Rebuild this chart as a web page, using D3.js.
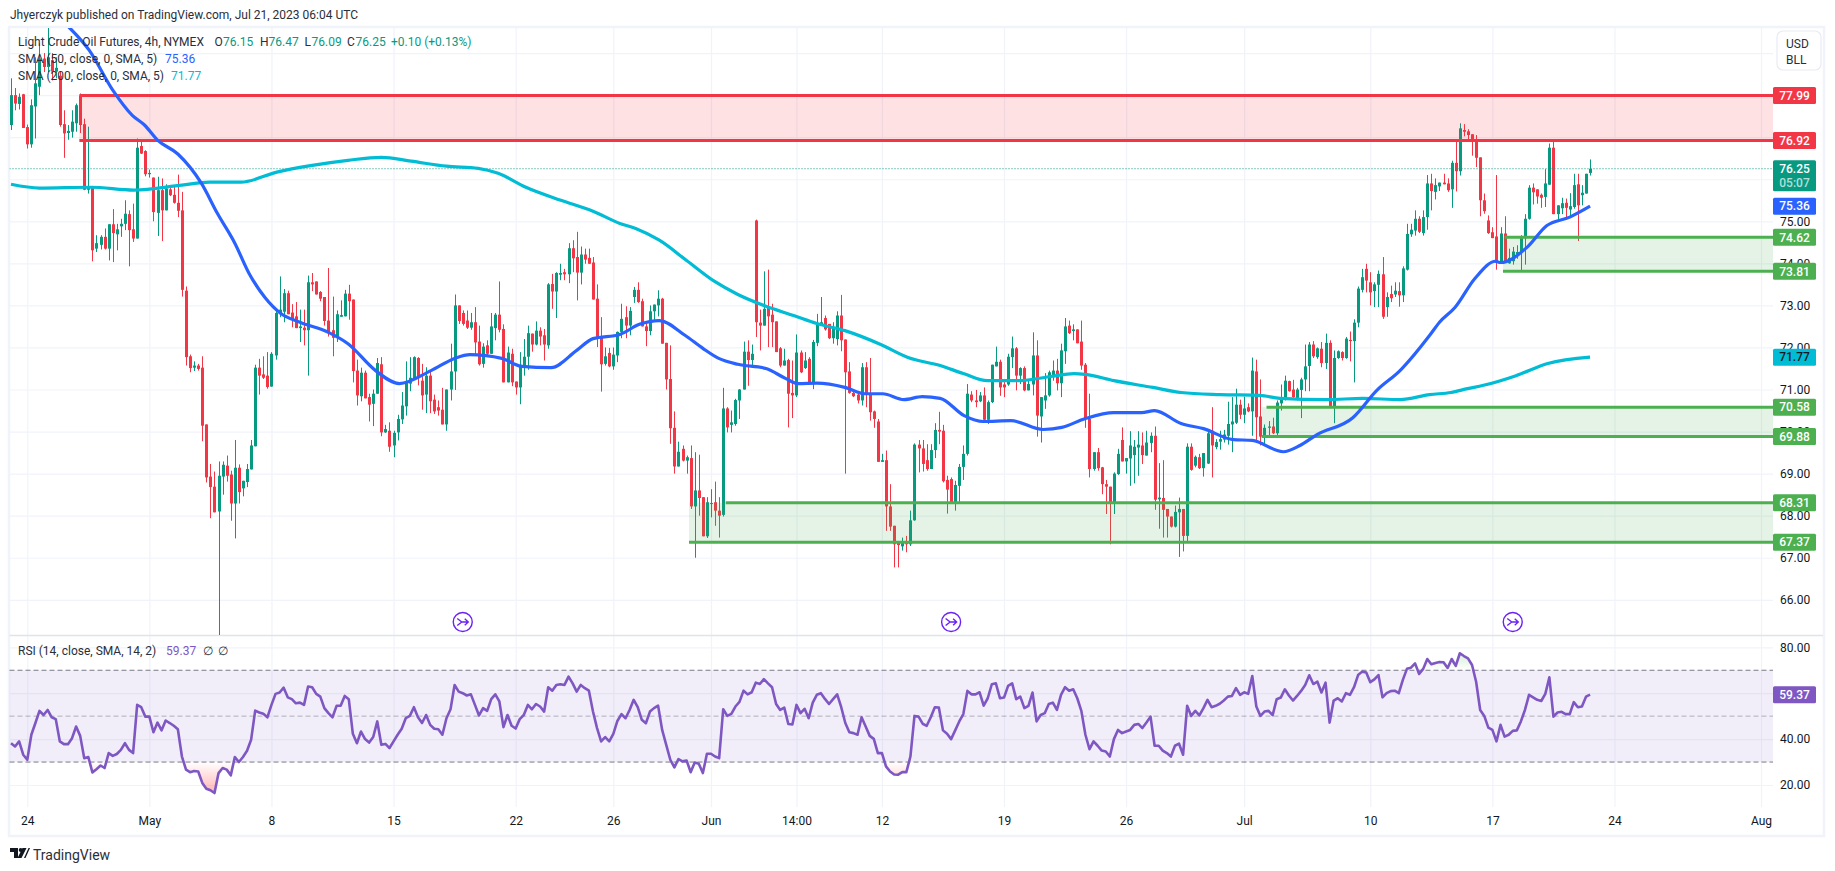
<!DOCTYPE html>
<html>
<head>
<meta charset="utf-8">
<script src="https://cdn.jsdelivr.net/npm/d3@7"></script>
<style>
html,body{margin:0;padding:0;background:#fff;overflow:hidden}
svg{display:block}
text{font-family:"Roboto","Liberation Sans",sans-serif;font-size:12px;fill:#131722}
</style>
</head>
<body>
<svg id="c" width="1835" height="871"></svg>
<script>
const barOpen=[
77.29,78.0,77.79,78.02,77.24,76.83,77.73,78.2,78.87,78.67,
78.83,78.56,78.46,77.31,77.1,77.13,77.33,77.99,77.31,75.75,
75.82,74.35,74.44,74.63,74.35,74.93,74.69,74.88,74.94,75.17,
74.81,74.59,76.79,76.67,76.12,76.04,75.2,75.74,75.26,75.76,
75.63,75.44,75.26,73.35,71.79,71.52,71.57,71.52,70.17,68.93,
68.69,68.1,68.93,69.19,68.98,68.29,69.14,68.65,68.8,69.1,
69.65,71.52,71.36,71.33,71.07,71.81,72.8,72.85,73.29,72.83,
72.74,72.46,72.47,72.41,73.55,73.57,73.32,73.2,72.64,72.41,
72.25,72.73,72.74,73.28,73.14,71.45,70.84,71.4,70.82,70.66,
70.9,71.6,69.98,70.02,69.67,69.98,70.29,70.6,71.14,71.25,
71.75,71.21,70.88,71.33,70.76,70.58,70.52,70.17,71.0,71.43,
73.0,72.82,72.64,72.47,72.6,72.14,71.61,72.05,71.85,72.46,
72.78,72.44,71.17,71.85,71.19,71.05,71.57,71.78,72.33,72.07,
72.4,72.29,72.05,73.51,73.33,73.73,73.79,73.74,74.36,74.15,
73.78,74.21,74.13,74.02,73.16,72.27,71.61,71.87,71.55,71.81,
72.37,72.72,72.52,73.2,73.37,73.1,72.5,72.39,72.86,73.0,
73.16,72.11,71.25,70.09,69.17,69.59,69.31,69.37,68.22,68.6,
68.44,67.51,68.28,68.32,68.12,68.02,70.55,70.16,70.18,70.74,
71.0,71.9,71.7,75.02,72.59,72.52,72.96,72.78,72.62,71.98,
71.57,71.7,70.92,70.86,71.88,71.51,71.73,71.17,72.11,72.52,
72.7,72.56,72.22,72.2,72.76,72.19,71.43,70.92,70.88,70.74,
71.53,70.9,70.48,70.24,69.28,69.32,68.22,67.76,67.35,67.27,
67.38,67.32,67.89,69.69,69.6,69.32,69.11,69.56,70.04,70.02,
68.85,68.87,68.29,68.71,69.16,69.47,70.88,70.74,70.72,70.86,
70.28,70.7,71.55,71.66,71.12,71.12,71.77,71.98,71.33,71.51,
70.98,71.12,71.81,70.36,70.74,70.86,71.33,71.45,71.15,71.91,
72.52,72.39,72.43,72.14,71.59,70.3,69.11,69.51,69.15,68.75,
68.69,68.29,68.99,69.8,69.29,69.36,69.44,69.62,69.67,69.43,
69.73,69.9,68.39,68.42,68.16,67.98,67.74,68.08,68.16,67.52,
69.64,69.19,69.39,69.13,69.24,70.02,69.63,69.76,69.81,69.9,
70.17,70.21,70.64,70.4,70.58,70.48,71.43,70.36,69.88,70.09,
70.12,69.96,70.67,70.77,71.2,71.0,70.8,70.99,71.24,71.56,
72.07,71.77,71.97,71.63,72.11,70.56,71.75,71.89,71.75,72.18,
72.15,72.59,73.37,73.87,73.55,73.34,73.49,73.74,72.96,73.27,
73.26,73.34,73.24,73.85,74.69,74.78,75.06,74.72,75.1,75.9,
75.7,75.83,75.92,75.9,75.76,76.39,76.19,77.17,77.14,77.07,
76.93,76.52,75.5,75.02,74.74,74.64,74.01,74.71,74.0,74.05,
74.21,74.27,74.6,75.06,75.8,75.76,75.63,75.58,75.87,76.75,
75.17,75.31,75.44,75.28,75.34,75.88,75.62,75.66,76.15];
const barClose=[
78.0,77.8,77.96,77.22,76.83,77.76,78.28,78.87,78.67,78.9,
78.56,78.65,77.29,77.09,77.15,77.37,77.76,77.29,75.75,75.83,
74.31,74.48,74.63,74.35,74.93,74.72,74.81,74.94,75.18,74.79,
74.59,76.75,76.61,76.12,76.15,75.22,75.74,75.26,75.78,75.62,
75.44,75.25,73.37,71.77,71.51,71.57,71.49,70.14,68.91,68.68,
68.08,68.95,69.21,68.95,68.29,69.14,68.56,68.83,69.11,69.67,
71.52,71.33,71.28,71.06,71.85,72.82,72.9,73.29,72.79,72.66,
72.46,72.5,72.41,73.55,73.5,73.26,73.16,72.63,72.34,72.23,
72.79,72.77,73.28,73.1,71.44,70.86,71.4,70.79,70.64,70.9,
71.63,69.98,70.06,69.64,69.97,70.3,70.62,71.17,71.28,71.77,
71.3,70.86,71.33,70.72,70.48,70.5,70.17,71.0,71.43,73.0,
72.63,72.56,72.47,72.6,72.12,71.6,72.02,71.85,72.5,72.78,
72.42,71.17,71.88,71.17,71.05,71.59,71.78,72.34,72.07,72.4,
72.26,72.07,73.5,73.33,73.77,73.77,73.74,74.36,74.12,73.78,
74.21,74.09,73.99,73.14,72.25,71.6,71.79,71.55,71.83,72.37,
72.68,72.52,72.87,73.37,73.08,72.5,72.39,72.86,73.02,73.16,
72.09,71.24,70.08,69.17,69.52,69.31,69.39,68.22,68.6,68.42,
67.51,68.32,68.3,68.12,68.0,70.55,70.1,70.22,70.75,71.0,
71.9,71.7,71.85,72.6,72.52,72.92,72.74,72.6,71.89,71.57,
71.69,70.9,70.86,71.88,71.41,71.69,71.17,72.13,72.56,72.6,
72.43,72.22,72.48,72.76,72.17,71.41,70.92,70.84,70.74,71.53,
70.9,70.46,70.3,69.28,69.32,68.22,67.74,67.32,67.3,67.38,
67.32,67.89,69.69,69.6,69.23,69.11,69.56,70.04,70.0,68.82,
68.62,68.29,68.73,69.16,69.47,70.9,70.74,70.7,70.86,70.28,
70.7,71.59,71.66,71.05,71.05,71.78,71.98,71.33,71.51,70.98,
71.13,71.81,70.38,70.82,70.86,71.41,71.45,71.15,71.93,72.5,
72.34,72.43,72.1,71.57,70.3,69.11,69.51,69.13,68.75,68.69,
68.29,69.0,69.47,69.29,69.37,69.67,69.64,69.69,69.44,69.74,
69.9,68.38,68.43,68.14,67.98,67.74,68.09,68.16,67.52,69.64,
69.09,69.4,69.13,69.49,69.96,69.67,69.75,69.82,69.93,70.18,
70.24,70.64,70.4,70.55,70.48,71.45,70.34,69.88,70.09,70.12,
69.96,70.69,70.78,71.21,70.96,70.82,71.0,71.24,71.55,72.07,
71.79,71.98,71.63,72.11,70.56,71.75,71.91,71.75,72.21,72.15,
72.59,73.4,73.67,73.59,73.31,73.5,73.75,72.73,73.2,73.17,
73.35,73.24,73.88,74.7,74.8,75.06,74.75,75.1,75.9,75.72,
75.86,75.92,75.88,75.74,76.39,76.19,77.21,77.13,77.05,76.93,
76.51,75.5,75.24,74.72,74.6,74.01,74.71,74.01,74.13,74.28,
74.27,74.63,75.06,75.8,75.69,75.59,75.56,75.9,76.75,75.17,
75.38,75.43,75.32,75.36,75.86,75.38,75.68,76.13,76.25];
const barHigh=[
78.4,78.17,78.04,78.03,77.3,77.9,78.9,79.23,79.0,79.6,
79.0,78.9,78.55,77.64,77.29,77.64,77.8,78.04,77.44,77.25,
75.84,74.67,74.67,74.83,74.93,75.29,74.94,75.06,75.5,75.26,
75.42,76.97,76.94,76.69,76.23,76.04,76.06,76.02,75.88,75.83,
75.83,76.11,75.7,73.45,71.83,71.67,71.61,71.79,70.17,69.23,
69.05,69.29,69.29,69.43,69.07,69.8,69.22,68.83,69.23,69.8,
71.59,71.73,71.79,71.89,71.89,72.88,73.69,73.39,73.35,73.03,
73.08,72.9,72.9,73.71,73.77,73.57,73.34,73.2,73.89,73.21,
72.88,73.12,73.37,73.49,73.14,71.71,71.52,71.45,70.9,71.0,
71.75,71.77,70.16,70.22,70.02,70.4,70.94,71.67,71.77,71.79,
71.77,71.61,71.53,71.45,70.88,70.74,71.04,71.0,72.09,73.26,
73.0,72.88,72.88,72.82,72.96,72.52,72.1,72.17,72.82,72.82,
73.57,72.55,72.02,71.97,71.19,71.89,72.2,72.52,72.33,72.62,
72.48,72.44,73.53,73.75,73.79,73.99,73.87,74.48,74.55,74.75,
74.4,74.35,74.35,74.15,73.5,72.72,72.0,71.99,72.0,72.38,
73.04,72.98,72.96,73.44,73.55,73.16,72.6,73.0,73.02,73.36,
73.18,72.11,72.05,70.48,69.76,69.67,69.43,69.67,69.51,69.45,
68.44,68.44,68.63,68.81,68.44,71.04,70.58,70.5,70.78,71.01,
72.14,72.17,72.07,75.04,72.9,73.81,73.85,73.04,72.62,72.01,
71.97,71.73,71.69,72.31,71.93,71.89,71.77,72.18,72.8,73.2,
72.76,72.56,72.6,72.86,73.25,72.19,71.65,71.01,70.9,71.63,
71.65,71.75,70.5,70.3,69.47,69.55,68.75,67.76,67.36,67.48,
67.52,68.12,69.72,69.8,69.8,69.7,69.7,70.2,70.47,70.16,
68.95,68.91,68.83,69.23,69.67,71.13,70.96,70.99,70.94,71.05,
70.74,71.59,72.02,71.71,71.25,71.85,72.26,72.01,71.53,71.55,
71.25,72.36,72.17,70.82,71.39,71.45,71.69,71.73,72.09,72.7,
72.64,72.55,72.43,72.64,71.63,70.9,69.51,69.61,69.16,68.85,
68.69,69.03,69.59,70.1,69.37,70.01,69.8,70.01,69.98,70.02,
69.98,70.12,69.25,69.32,68.16,67.98,68.24,68.43,68.16,69.72,
69.72,69.43,69.47,69.49,70.06,70.58,69.82,70.02,70.04,70.71,
70.82,71.02,70.76,70.83,70.67,71.76,71.71,71.24,70.17,70.25,
70.33,70.74,71.12,71.33,71.21,71.23,71.04,71.28,72.07,72.13,
72.15,72.0,72.13,72.33,72.17,71.93,71.93,71.91,72.25,72.38,
72.67,73.45,73.87,73.99,73.79,73.55,73.83,74.15,73.31,73.47,
73.55,73.55,73.93,74.94,74.94,75.26,75.12,75.26,76.1,76.13,
76.02,75.92,76.13,76.02,76.44,76.89,77.33,77.31,77.19,77.07,
77.05,76.52,75.66,75.14,74.86,76.1,74.86,75.12,74.35,74.39,
74.43,74.67,75.17,75.86,75.9,75.76,75.66,76.24,76.85,76.89,
75.38,75.56,75.54,75.67,76.13,76.13,75.86,76.13,76.47];
const barLow=[
77.17,77.64,77.66,77.22,76.73,76.75,76.97,78.0,78.55,78.55,
78.35,78.4,77.25,76.51,76.94,76.99,77.13,77.1,75.74,75.66,
74.05,74.27,74.33,74.33,74.07,74.03,74.31,74.63,74.79,73.93,
74.51,74.59,76.6,76.07,76.04,75.0,74.65,74.53,75.26,75.6,
75.42,75.1,73.21,71.57,71.41,71.44,71.45,69.77,68.79,67.94,
68.08,65.15,68.5,68.81,67.88,67.46,68.29,68.46,68.68,69.1,
69.65,70.88,71.25,71.02,71.07,71.71,72.72,72.6,72.79,72.48,
72.46,72.13,72.05,71.33,73.34,73.26,73.1,72.52,72.26,71.79,
72.13,72.73,72.74,72.66,71.17,70.62,70.72,70.79,70.24,70.13,
70.9,69.89,69.97,69.52,69.39,69.79,70.18,70.38,70.96,71.25,
71.1,70.52,70.44,70.44,70.42,70.38,70.17,70.02,70.74,70.99,
72.56,72.52,72.44,72.42,71.81,71.57,71.52,71.81,71.85,72.17,
72.36,71.17,71.17,71.08,70.88,70.65,71.33,71.47,71.9,72.05,
72.05,71.69,71.97,72.92,72.7,73.6,73.6,73.53,73.79,73.12,
73.5,73.99,73.99,73.14,72.01,70.95,71.57,71.53,71.47,71.65,
72.22,72.22,72.29,73.06,73.06,72.5,72.03,72.29,72.64,72.74,
72.09,71.0,69.71,69.0,69.17,69.29,69.0,68.16,67.0,68.0,
67.51,67.47,67.96,67.76,67.48,67.98,69.98,69.98,70.14,70.3,
71.0,71.09,71.53,72.25,71.93,72.52,72.01,72.01,71.89,71.53,
71.57,70.1,70.32,70.82,71.39,71.49,71.13,71.01,72.03,72.52,
72.4,72.2,72.09,72.05,71.91,69.0,70.9,70.82,70.67,70.62,
70.58,70.26,70.09,69.28,69.28,67.64,67.64,66.77,66.77,67.17,
67.13,67.28,67.88,69.03,69.05,69.07,69.11,69.37,69.7,68.79,
68.05,68.29,68.12,68.3,68.85,69.43,70.7,70.58,70.7,70.22,
70.18,70.68,71.55,70.85,70.82,71.09,71.51,70.98,71.13,70.96,
70.98,70.86,69.88,69.74,70.54,70.83,71.21,70.98,70.82,71.61,
72.32,72.17,72.1,71.47,70.09,68.91,69.07,69.07,68.51,68.04,
67.32,68.04,68.97,69.29,69.0,68.71,68.77,68.95,69.23,69.43,
69.51,68.14,67.69,67.48,67.48,67.72,67.72,67.02,67.15,67.39,
69.07,69.15,69.11,68.93,69.23,68.91,69.58,69.57,69.74,69.69,
69.51,70.18,70.3,70.2,70.46,69.9,69.79,69.67,69.69,69.88,
69.94,69.86,70.5,70.74,70.95,70.8,70.74,70.32,70.96,70.96,
71.75,71.73,71.53,71.49,70.56,70.2,71.73,71.69,71.73,71.67,
71.17,72.48,73.31,73.31,73.0,72.96,72.96,72.68,72.73,73.08,
73.2,72.97,73.08,73.83,74.63,74.66,74.72,74.66,74.8,75.26,
75.52,75.72,75.88,75.7,75.32,75.71,76.09,77.02,76.94,76.56,
76.29,75.12,75.18,74.7,74.6,73.85,73.99,74.01,73.99,73.97,
74.11,73.81,73.97,75.04,75.4,75.42,75.32,75.34,75.87,75.17,
75.02,75.17,75.1,75.1,75.3,74.53,75.38,75.66,76.09];

const sma50Bars=[14.2,19.2,25,29.8,32.8,36,41,46.8,50.7,55,58.5,62.4,66.3,71,78,82.8,89.6,95.4,103.2,109,112.8,120.6,125.5,132.7,139,143,149.6,154.4,159.3,165.6,170,173.9,178.6,185.5,190.4,193.4,198,204.9,209.8,214.2,219.4,223.9,228.3,234.2,238.8,245.7,253.6,258.2,264,271,277.8,281,287.5,293,300.3,305,312.6,316.7,320.9,329.7,335.6,341.3,348.6,351,354.8,359.7,364.8,366,372.5,377.4,383,388];
const sma50Vals=[79.62,79.07,78.12,77.52,77.29,76.93,76.6,75.9,75.19,74.48,73.76,73.19,72.81,72.6,72.36,72.09,71.45,71.14,71.45,71.74,71.83,71.74,71.55,71.52,71.93,72.21,72.31,72.55,72.64,72.29,71.98,71.74,71.6,71.5,71.26,71.14,71.15,71.05,70.9,70.9,70.76,70.83,70.79,70.38,70.24,70.26,70.05,70.1,70.31,70.45,70.45,70.5,70.19,70.07,69.81,69.79,69.52,69.67,69.93,70.33,70.98,71.45,72.29,72.6,72.95,73.64,74.05,74.02,74.38,74.9,75.1,75.36];
const sma200Bars=[0,7,19.6,30.2,42,48.8,56.5,65.3,74,82.8,91,98.3,107,114.8,119.7,126.5,135.1,143,149.6,153.5,159.3,166,172.9,178.6,185.5,192.3,198,204.9,213.7,220.4,228.3,234,239.9,247.7,255.4,261.2,264,271,280.6,287.5,297,306.9,311.8,323.3,332.2,341.3,348.6,353.8,357.9,361.8,369.8,377.6,388];
const sma200Vals=[75.88,75.79,75.81,75.74,75.86,75.93,75.93,76.17,76.33,76.45,76.52,76.43,76.31,76.26,76.14,75.81,75.5,75.24,74.95,74.83,74.55,74.07,73.57,73.26,72.98,72.76,72.57,72.4,72.07,71.76,71.57,71.38,71.21,71.21,71.31,71.38,71.36,71.21,71.05,70.93,70.88,70.86,70.79,70.76,70.79,70.76,70.88,70.93,71.02,71.1,71.33,71.62,71.77];

const rsiVals=[
38.2,36.8,39,33.2,31,41.9,47,52.3,50.5,52.7,
49.5,48.7,39,37.8,37.8,40.4,45.5,41.4,31.7,32.2,
25.5,26.9,28.5,27.4,33.9,32.7,33.5,35.3,38.2,35.3,
33.9,54.9,53.9,49.8,49.8,43,47.2,43.8,48.1,47,
45.8,44.3,32.4,26.7,25.6,26.1,25.9,20.9,18.4,17.7,
16.5,25.2,27.4,26.7,24.2,32.2,30,32.2,34.9,39.7,
52.4,51.6,51,49.5,54.9,59.7,60.3,62.4,58.2,57.4,
55.6,55.9,54.9,62.9,62.6,59.7,58.5,53.5,51.3,49.5,
54.5,54.5,58.8,57.4,42.3,38.2,43.3,40,38.5,40.9,
47.7,37.5,37.9,36.1,39,41.9,44.5,49.1,50.1,53.9,
49.5,47,50.5,46.2,44.5,44.3,41.9,49.1,53,63.6,
60.7,60,59,59.5,54.9,50.3,53.5,52.3,57.4,59.5,
56.4,45.2,50.5,45.8,44.6,48.7,50.5,54.9,53,55.3,
54.2,52,62.6,61.1,63.6,63.9,63.6,67.2,64.3,60.7,
63.6,62.2,61.1,52,44.8,39,40.9,39,42.3,47.9,
50.9,49.1,52.7,57.1,53.9,48.4,46.9,52,53.5,54.6,
44,37.5,31,27.7,31.3,30.3,30.7,25.6,29.8,29.3,
25.2,33.6,33.6,32.4,31.7,53,50.1,51,54.2,56.2,
61.1,59.5,60.4,64.6,64,66.1,64.3,62.6,55.3,52.7,
53.7,46.6,46.4,54.9,51.3,53.2,49.1,55.9,59.3,60,
57.5,55.3,57.4,59.5,53.9,47,43,42.6,41.9,49.5,
45.5,41.4,40.1,33.9,33.9,28.1,25.9,24.6,24.5,25.6,
25.6,32.4,50.1,49.8,46.7,45.8,49.5,53.9,53.7,43.8,
42.3,40,43.8,47.7,50.9,61,59.5,59.5,60.4,54.6,
57.8,63.9,64.3,57.8,58.1,63.2,64.3,57.4,58.5,53.5,
54.5,60.3,47.7,50.5,51.3,55.3,55.9,52.7,59.3,62.6,
61.1,61.7,57.8,52.3,41.9,35.6,39,37.1,35,34.6,
32.4,40,44,42.6,43.3,44,46.2,46.6,44.8,47.2,
49.8,37.1,37.1,35,33.9,32.4,37.1,38,33.2,54.5,
50.1,52.3,50.3,53.5,57.1,53.9,54.5,55.4,56.8,58.5,
58.8,62.2,59.3,60.4,59.7,67.5,54.2,50.1,52,52.3,
50.4,57.4,58.1,61.7,59,56.8,58.8,61,63.6,67.8,
64,65,60.3,64.6,47.2,56.8,57.8,56.4,60,59.3,
62.6,67.9,69.4,69,64.8,66,67.9,58.2,60,60.9,
61.1,60,65.8,70.6,71.1,73,68.4,70.6,74.9,72.6,
73.2,73.6,73.5,71,74.9,71.9,77.4,76.2,75.2,72.3,
65,52.7,50.1,45,44,39,46.2,41.1,41.9,43.6,
43.8,47.7,52.7,59.3,58.2,57.1,56.6,59.7,66.9,49.8,
51.6,51.9,50.9,50.9,56.1,53.9,54.2,58.5,59.37];

const priceTicks=[75,74,73,72,71,70,69,68,67,66];
const priceGrid=[79,78,77,76,75,74,73,72,71,70,69,68,67,66];
const rsiTicks=[80,40,20];
const rsiGrid=[80,60,40,20];
const timeBars=[4,34,64,94,124,148,172,193,214,244,274,303,334,364,394,430];
const timeLabels=["24","May","8","15","22","26","Jun","14:00","12","19","26","Jul","10","17","24","Aug"];
const eventBars=[111,231,369];

const zoneTop=[77.99,68.31,70.58,74.62];
const zoneBottom=[76.92,67.37,69.88,73.81];
const zoneStartFill=[16.8,166.6,307.3,366.6];
const zoneStartTop=[16.8,175.6,308.5,367];
const zoneStartBottom=[16.8,166.6,307.3,366.6];
const zoneColor=["#f23645","#4caf50","#4caf50","#4caf50"];

const priceLabels=[77.99,76.92,75.36,74.62,73.81,71.77,70.58,69.88,68.31,67.37];
const priceLabelColors=["#f23645","#f23645","#2962ff","#4caf50","#4caf50","#00bcd4","#4caf50","#4caf50","#4caf50","#4caf50"];
const lastPrice=76.25, lastRsi=59.37;

const W=1835,H=871,LEFT=9.5,RIGHT=1773,PANE1_TOP=28,PANE1_BOT=635,PANE2_TOP=636,PANE2_BOT=807,AXIS_BOT=835;
const UP="#089981",DOWN="#f23645";

const x=d3.scaleLinear().domain([0,430]).range([11,1761]);
const y=d3.scaleLinear().domain([75,66]).range([221.3,599.8]);
const yR=d3.scaleLinear().domain([80,20]).range([647.3,785]);

const svg=d3.select("#c");
const defs=svg.append("defs");
defs.append("clipPath").attr("id","clip1").append("rect").attr("x",LEFT).attr("y",PANE1_TOP).attr("width",RIGHT-LEFT).attr("height",PANE1_BOT-PANE1_TOP);
defs.append("clipPath").attr("id","clipLow").append("rect").attr("x",LEFT).attr("y",yR(30)).attr("width",RIGHT-LEFT).attr("height",PANE2_BOT-yR(30));
defs.append("clipPath").attr("id","clipHigh").append("rect").attr("x",LEFT).attr("y",PANE2_TOP).attr("width",RIGHT-LEFT).attr("height",yR(70)-PANE2_TOP);
const gLow=defs.append("linearGradient").attr("id","gLow").attr("gradientUnits","userSpaceOnUse").attr("x1",0).attr("x2",0).attr("y1",yR(30)).attr("y2",yR(16));
gLow.append("stop").attr("offset",0).attr("stop-color","#ff5252").attr("stop-opacity",0);
gLow.append("stop").attr("offset",1).attr("stop-color","#ff5252").attr("stop-opacity",.45);
const gHigh=defs.append("linearGradient").attr("id","gHigh").attr("gradientUnits","userSpaceOnUse").attr("x1",0).attr("x2",0).attr("y1",yR(70)).attr("y2",yR(80));
gHigh.append("stop").attr("offset",0).attr("stop-color","#4caf50").attr("stop-opacity",0);
gHigh.append("stop").attr("offset",1).attr("stop-color","#4caf50").attr("stop-opacity",.3);

// frame
svg.append("rect").attr("x",9).attr("y",27).attr("width",1815).attr("height",809).attr("fill","#fff").attr("stroke","#f0f3fa").attr("stroke-width",2.5);

// grids via axes
function styleGrid(g){g.select(".domain").remove();g.selectAll("text").remove();g.selectAll("line").attr("stroke","#f0f3fa").attr("stroke-width",1.2);}
svg.append("g").attr("transform",`translate(0,${PANE1_BOT})`).call(d3.axisTop(x).tickValues(timeBars).tickSize(PANE1_BOT-PANE1_TOP).tickFormat("")).call(styleGrid);
svg.append("g").attr("transform",`translate(0,${PANE2_BOT})`).call(d3.axisTop(x).tickValues(timeBars).tickSize(PANE2_BOT-PANE2_TOP).tickFormat("")).call(styleGrid);
svg.append("g").attr("transform",`translate(${RIGHT},0)`).call(d3.axisLeft(y).tickValues(priceGrid).tickSize(RIGHT-LEFT).tickFormat("")).call(styleGrid);
svg.append("g").attr("transform",`translate(${RIGHT},0)`).call(d3.axisLeft(yR).tickValues(rsiGrid).tickSize(RIGHT-LEFT).tickFormat("")).call(styleGrid);

// pane separator
svg.append("line").attr("x1",LEFT).attr("x2",1823).attr("y1",635.5).attr("y2",635.5).attr("stroke","#e0e3eb").attr("stroke-width",1.4);

const main=svg.append("g").attr("clip-path","url(#clip1)");

// candles
const idx=d3.range(barOpen.length);
const snap=i=>Math.round(x(i));
main.append("g").selectAll("rect").data(idx).join("rect")
  .attr("x",i=>snap(i)).attr("width",1)
  .attr("y",i=>y(barHigh[i])).attr("height",i=>Math.max(1,y(barLow[i])-y(barHigh[i])))
  .attr("fill",i=>barClose[i]>=barOpen[i]?UP:DOWN);
main.append("g").selectAll("rect").data(idx).join("rect")
  .attr("x",i=>snap(i)-1).attr("width",3)
  .attr("y",i=>y(Math.max(barOpen[i],barClose[i]))).attr("height",i=>Math.max(1,Math.abs(y(barOpen[i])-y(barClose[i]))))
  .attr("fill",i=>barClose[i]>=barOpen[i]?UP:DOWN);

// last price line
main.append("line").attr("x1",LEFT).attr("x2",RIGHT).attr("y1",y(lastPrice)).attr("y2",y(lastPrice))
  .attr("stroke",UP).attr("stroke-width",1).attr("stroke-dasharray","1 2");

// zones
const zones=d3.range(zoneTop.length);
main.append("g").selectAll("rect").data(zones).join("rect")
  .attr("x",i=>x(zoneStartFill[i])).attr("width",i=>RIGHT-x(zoneStartFill[i]))
  .attr("y",i=>y(zoneTop[i])).attr("height",i=>y(zoneBottom[i])-y(zoneTop[i]))
  .attr("fill",i=>zoneColor[i]).attr("fill-opacity",.15);
const zl=main.append("g");
zones.forEach(i=>{
  zl.append("line").attr("x1",x(zoneStartTop[i])).attr("x2",RIGHT).attr("y1",y(zoneTop[i])).attr("y2",y(zoneTop[i])).attr("stroke",zoneColor[i]).attr("stroke-width",3);
  zl.append("line").attr("x1",x(zoneStartBottom[i])).attr("x2",RIGHT).attr("y1",y(zoneBottom[i])).attr("y2",y(zoneBottom[i])).attr("stroke",zoneColor[i]).attr("stroke-width",3);
});

// moving averages
const maLine=d3.line().x(d=>x(d[0])).y(d=>y(d[1])).curve(d3.curveMonotoneX);
main.append("path").attr("d",maLine(d3.zip(sma200Bars,sma200Vals))).attr("fill","none").attr("stroke","#00bcd4").attr("stroke-width",3.2).attr("stroke-linejoin","round");
main.append("path").attr("d",maLine(d3.zip(sma50Bars,sma50Vals))).attr("fill","none").attr("stroke","#2962ff").attr("stroke-width",3.2).attr("stroke-linejoin","round");

// event markers
const ev=svg.append("g").selectAll("g").data(eventBars).join("g").attr("transform",i=>`translate(${x(i)},622)`);
ev.append("circle").attr("r",9.5).attr("fill","#fff").attr("stroke","#6a22f5").attr("stroke-width",1.4);
ev.append("path").attr("d","M-5.5,-3.5 L-1,0 L-5.5,3.5 M-1,0 L5.5,0 M2,-3.2 L5.5,0 L2,3.2").attr("fill","none").attr("stroke","#6a22f5").attr("stroke-width",1.4);

// RSI pane
const band=svg.append("g");
band.append("rect").attr("x",LEFT).attr("width",RIGHT-LEFT).attr("y",yR(70)).attr("height",yR(30)-yR(70)).attr("fill","#7e57c2").attr("fill-opacity",.1);
[[70,"#787b86",1],[50,"#787b86",.55],[30,"#787b86",1]].forEach(([v,c,o])=>{
  band.append("line").attr("x1",LEFT).attr("x2",RIGHT).attr("y1",yR(v)).attr("y2",yR(v)).attr("stroke",c).attr("stroke-opacity",o).attr("stroke-dasharray","5 3").attr("stroke-width",1);
});
const rsiPts=rsiVals.map((v,i)=>[i,v]);
svg.append("path").attr("clip-path","url(#clipLow)").attr("d",d3.area().x(d=>x(d[0])).y0(yR(30)).y1(d=>yR(d[1]))(rsiPts)).attr("fill","url(#gLow)");
svg.append("path").attr("clip-path","url(#clipHigh)").attr("d",d3.area().x(d=>x(d[0])).y0(yR(70)).y1(d=>yR(d[1]))(rsiPts)).attr("fill","url(#gHigh)");
svg.append("path").attr("d",d3.line().x(d=>x(d[0])).y(d=>yR(d[1]))(rsiPts)).attr("fill","none").attr("stroke","#7e57c2").attr("stroke-width",2.6).attr("stroke-linejoin","round");

// axes
const fmt=d3.format(".2f");
function styleAxis(g){g.select(".domain").remove();g.selectAll("line").remove();g.selectAll("text").attr("fill","#131722").style("font-size","12px");}
const ax1=svg.append("g").attr("transform","translate(1774,0)").call(d3.axisRight(y).tickValues(priceTicks).tickSize(0).tickPadding(6).tickFormat(fmt)).call(styleAxis);
const ax2=svg.append("g").attr("transform","translate(1774,0)").call(d3.axisRight(yR).tickValues(rsiTicks).tickSize(0).tickPadding(6).tickFormat(fmt)).call(styleAxis);
const ax3=svg.append("g").attr("transform","translate(0,812)").call(d3.axisBottom(x).tickValues(timeBars).tickSize(0).tickPadding(4).tickFormat((d,i)=>timeLabels[i])).call(styleAxis);

// price labels
function label(py,h,color,txt,txtColor,sub){
  const g=svg.append("g");
  g.append("rect").attr("x",1773).attr("width",43).attr("y",py-h/2).attr("height",h).attr("rx",1.5).attr("fill",color);
  g.append("text").attr("x",1794.5).attr("y",sub?py-h/2+12.5:py+4.3).attr("text-anchor","middle").style("fill",txtColor).style("font-weight",500).text(txt);
  if(sub)g.append("text").attr("x",1794.5).attr("y",py-h/2+26.5).attr("text-anchor","middle").style("fill","rgba(255,255,255,.7)").style("font-weight",500).text(sub);
}
priceLabels.forEach((p,i)=>label(y(p),17,priceLabelColors[i],fmt(p),priceLabelColors[i]==="#00bcd4"?"#131722":"#fff"));
label(y(lastPrice)+7,31,UP,fmt(lastPrice),"#fff","05:07");
label(yR(lastRsi),17,"#7e57c2",fmt(lastRsi),"#fff");

// currency button
svg.append("rect").attr("x",1777).attr("y",31).attr("width",44).attr("height",39).attr("rx",6).attr("fill","#fff").attr("stroke","#e8ebf3").attr("stroke-width",1.2);
svg.append("text").attr("x",1786).attr("y",48).text("USD").style("fill","#2a2e39");
svg.append("text").attr("x",1786).attr("y",64).text("BLL").style("fill","#2a2e39");

// texts
function row(yPos,parts){
  const g=svg.append("g");
  parts.forEach(([tx,t,c])=>g.append("text").attr("x",tx).attr("y",yPos).style("fill",c||"#2a2e39").text(t));
}
svg.append("text").attr("x",10).attr("y",19).style("fill","#2a2e39").text("Jhyerczyk published on TradingView.com, Jul 21, 2023 06:04 UTC");
row(46,[[18,"Light Crude Oil Futures, 4h, NYMEX"],[214.5,"O"],[223,"76.15",UP],[260,"H"],[268.5,"76.47",UP],[304.5,"L"],[311.5,"76.09",UP],[347,"C"],[355.5,"76.25",UP],[391,"+0.10 (+0.13%)",UP]]);
row(63,[[18,"SMA (50, close, 0, SMA, 5)"],[165,"75.36","#2962ff"]]);
row(80,[[18,"SMA (200, close, 0, SMA, 5)"],[171,"71.77","#00bcd4"]]);
row(655,[[18,"RSI (14, close, SMA, 14, 2)"],[166,"59.37","#7e57c2"],[203,"∅"],[218,"∅"]]);

// brand
const brand=svg.append("g").attr("transform","translate(10,848)");
brand.append("path").attr("d","M0 0H8V10H4V4H0Z M12.5 0L16.5 0L11.5 10H7.5Z").attr("fill","#131722");
brand.append("circle").attr("cx",10.7).attr("cy",2).attr("r",2).attr("fill","#131722");
brand.append("path").attr("d","M14 10L18.5 0H20L15.5 10Z").attr("fill","#131722");
svg.append("text").attr("x",33).attr("y",860).style("font-size","14px").style("fill","#2a2e39").text("TradingView");
</script>
</body>
</html>
